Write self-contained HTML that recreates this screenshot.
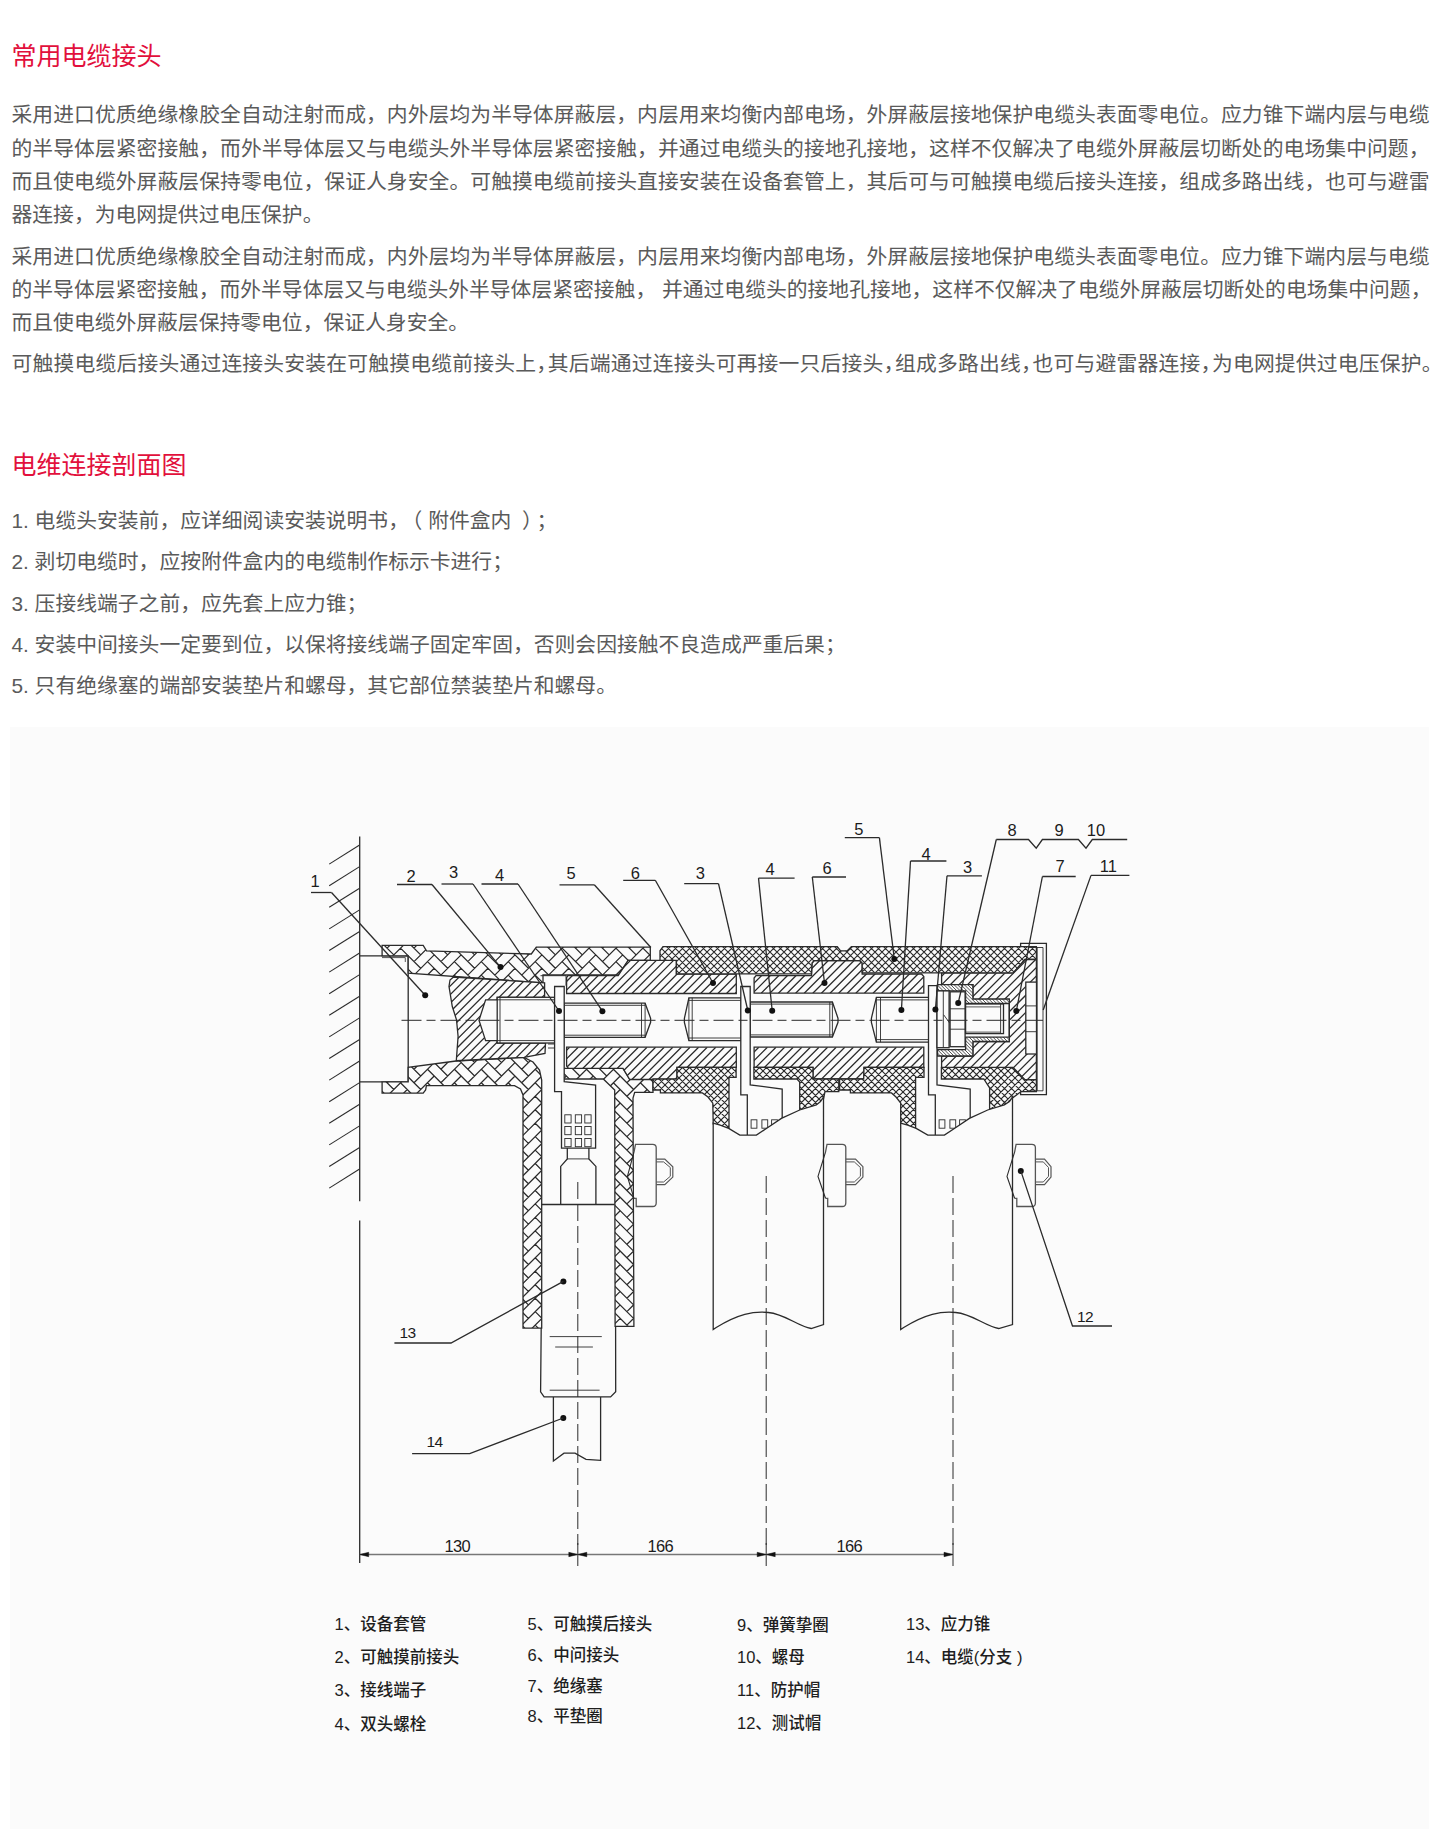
<!DOCTYPE html>
<html lang="zh-CN">
<head>
<meta charset="utf-8">
<title>常用电缆接头</title>
<style>
html,body{margin:0;padding:0;background:#fff;}
body{width:1443px;height:1833px;position:relative;overflow:hidden;font-family:"Liberation Sans","Noto Sans CJK SC",sans-serif;color:#4d4d4d;}
.t{position:absolute;left:11.5px;white-space:nowrap;font-size:25px;line-height:30px;color:#e2103c;font-weight:400;}
.l{position:absolute;left:11.5px;width:1418px;font-size:20.8px;line-height:30px;white-space:nowrap;text-align:justify;text-align-last:justify;color:#5a5a5a;}
.s{position:absolute;left:11.5px;font-size:20.8px;line-height:30px;white-space:nowrap;color:#5a5a5a;}
.c{margin:0 -9.5px 0 0;}
.box{position:absolute;left:10.4px;top:726.5px;width:1419px;height:1102.5px;background:#fbfbfb;}
#dwg{position:absolute;left:0;top:0;font-family:"Liberation Sans",sans-serif;fill:#1c1c1c;}
.g{position:absolute;font-size:16.5px;line-height:22px;white-space:nowrap;color:#1e1e1e;font-weight:500;}
</style>
</head>
<body>
<div class="t" style="top:41.3px">常用电缆接头</div>
<div class="l" style="top:100px">采用进口优质绝缘橡胶全自动注射而成，内外层均为半导体屏蔽层，内层用来均衡内部电场，外屏蔽层接地保护电缆头表面零电位。应力锥下端内层与电缆</div>
<div class="l" style="top:133.5px">的半导体层紧密接触，而外半导体层又与电缆头外半导体层紧密接触，并通过电缆头的接地孔接地，这样不仅解决了电缆外屏蔽层切断处的电场集中问题，</div>
<div class="l" style="top:166.5px">而且使电缆外屏蔽层保持零电位，保证人身安全。可触摸电缆前接头直接安装在设备套管上，其后可与可触摸电缆后接头连接，组成多路出线，也可与避雷</div>
<div class="s" style="top:199.5px">器连接，为电网提供过电压保护。</div>
<div class="l" style="top:241.5px">采用进口优质绝缘橡胶全自动注射而成，内外层均为半导体屏蔽层，内层用来均衡内部电场，外屏蔽层接地保护电缆头表面零电位。应力锥下端内层与电缆</div>
<div class="l" style="top:274.5px">的半导体层紧密接触，而外半导体层又与电缆头外半导体层紧密接触， 并通过电缆头的接地孔接地，这样不仅解决了电缆外屏蔽层切断处的电场集中问题，</div>
<div class="s" style="top:307.5px">而且使电缆外屏蔽层保持零电位，保证人身安全。</div>
<div class="l" style="top:348.5px;width:1431px">可触摸电缆后接头通过连接头安装在可触摸电缆前接头上<span class="c">，</span>其后端通过连接头可再接一只后接头<span class="c">，</span>组成多路出线<span class="c">，</span>也可与避雷器连接<span class="c">，</span>为电网提供过电压保护。</div>
<div class="t" style="top:450px">电维连接剖面图</div>
<div class="s" style="top:505.5px">1. 电缆头安装前，应详细阅读安装说明书，<span style="margin-left:3px">（</span> 附件盒内<span style="margin-left:5px"> ）</span><span style="margin-left:4px">；</span></div>
<div class="s" style="top:546.5px">2. 剥切电缆时，应按附件盒内的电缆制作标示卡进行；</div>
<div class="s" style="top:588.5px">3. 压接线端子之前，应先套上应力锥；</div>
<div class="s" style="top:629.5px">4. 安装中间接头一定要到位，以保将接线端子固定牢固，否则会因接触不良造成严重后果；</div>
<div class="s" style="top:670.5px">5. 只有绝缘塞的端部安装垫片和螺母，其它部位禁装垫片和螺母。</div>
<div class="box"></div>
<svg id="dwg" width="1443" height="1833" viewBox="0 0 1443 1833">
<line x1="359.7" y1="836.6" x2="359.7" y2="1201.2" stroke="#2b2b2b" stroke-width="1.3" />
<line x1="359.7" y1="1220.4" x2="359.7" y2="1563.0" stroke="#2b2b2b" stroke-width="1.3" />
<line x1="359.2" y1="845.3" x2="329.2" y2="864.1" stroke="#2b2b2b" stroke-width="1.1" />
<line x1="359.2" y1="866.9" x2="329.2" y2="885.7" stroke="#2b2b2b" stroke-width="1.1" />
<line x1="359.2" y1="888.5" x2="329.2" y2="907.3" stroke="#2b2b2b" stroke-width="1.1" />
<line x1="359.2" y1="910.1" x2="329.2" y2="928.9" stroke="#2b2b2b" stroke-width="1.1" />
<line x1="359.2" y1="931.7" x2="329.2" y2="950.5" stroke="#2b2b2b" stroke-width="1.1" />
<line x1="359.2" y1="953.3" x2="329.2" y2="972.1" stroke="#2b2b2b" stroke-width="1.1" />
<line x1="359.2" y1="974.9" x2="329.2" y2="993.7" stroke="#2b2b2b" stroke-width="1.1" />
<line x1="359.2" y1="996.5" x2="329.2" y2="1015.3" stroke="#2b2b2b" stroke-width="1.1" />
<line x1="359.2" y1="1018.1" x2="329.2" y2="1036.9" stroke="#2b2b2b" stroke-width="1.1" />
<line x1="359.2" y1="1039.7" x2="329.2" y2="1058.5" stroke="#2b2b2b" stroke-width="1.1" />
<line x1="359.2" y1="1061.3" x2="329.2" y2="1080.1" stroke="#2b2b2b" stroke-width="1.1" />
<line x1="359.2" y1="1082.9" x2="329.2" y2="1101.7" stroke="#2b2b2b" stroke-width="1.1" />
<line x1="359.2" y1="1104.5" x2="329.2" y2="1123.3" stroke="#2b2b2b" stroke-width="1.1" />
<line x1="359.2" y1="1126.1" x2="329.2" y2="1144.9" stroke="#2b2b2b" stroke-width="1.1" />
<line x1="359.2" y1="1147.7" x2="329.2" y2="1166.5" stroke="#2b2b2b" stroke-width="1.1" />
<line x1="359.2" y1="1169.3" x2="329.2" y2="1188.1" stroke="#2b2b2b" stroke-width="1.1" />
<polyline points="359.7,955.8 408.2,955.8 408.2,1081.8 359.7,1081.8" fill="none" stroke="#2b2b2b" stroke-width="1.3" />
<polyline points="382.0,957.6 405.3,957.6 405.3,962.0" fill="none" stroke="#2b2b2b" stroke-width="0.8" />
<clipPath id="c1"><polygon points="382.1,945.3 423.2,945.3 426.5,950.8 531.3,954.0 536.3,947.1 650.3,947.1 650.3,960.4 628.2,960.4 618.2,975.0 543.0,975.0 543.0,982.9 408.2,973.2 408.2,955.8 382.1,955.8"/></clipPath>
<polygon points="382.1,945.3 423.2,945.3 426.5,950.8 531.3,954.0 536.3,947.1 650.3,947.1 650.3,960.4 628.2,960.4 618.2,975.0 543.0,975.0 543.0,982.9 408.2,973.2 408.2,955.8 382.1,955.8" fill="#fbfbfb" stroke="none"/>
<path clip-path="url(#c1)" d="M387.1,975.1L407.3,954.9M387.1,961.6L407.3,941.4M393.8,954.9L373.6,934.7M387.1,948.1L407.3,927.9M414.0,988.5L434.2,968.3M420.7,981.8L400.5,961.6M414.0,975.1L434.2,954.9M420.7,968.3L400.5,948.1M414.0,961.6L434.2,941.4M420.7,954.9L400.5,934.7M414.0,948.1L434.2,927.9M440.9,988.5L461.1,968.3M447.7,981.8L427.5,961.6M440.9,975.1L461.1,954.9M447.7,968.3L427.5,948.1M440.9,961.6L461.1,941.4M447.7,954.9L427.5,934.7M474.6,995.3L454.4,975.1M467.8,988.5L488.0,968.3M474.6,981.8L454.4,961.6M467.8,975.1L488.0,954.9M474.6,968.3L454.4,948.1M467.8,961.6L488.0,941.4M474.6,954.9L454.4,934.7M501.5,995.3L481.3,975.1M494.8,988.5L515.0,968.3M501.5,981.8L481.3,961.6M494.8,975.1L515.0,954.9M501.5,968.3L481.3,948.1M494.8,961.6L515.0,941.4M501.5,954.9L481.3,934.7M521.7,1002.0L541.9,981.8M528.4,995.3L508.2,975.1M521.7,988.5L541.9,968.3M528.4,981.8L508.2,961.6M521.7,975.1L541.9,954.9M528.4,968.3L508.2,948.1M521.7,961.6L541.9,941.4M528.4,954.9L508.2,934.7M555.4,995.3L535.2,975.1M548.6,988.5L568.8,968.3M555.4,981.8L535.2,961.6M548.6,975.1L568.8,954.9M555.4,968.3L535.2,948.1M548.6,961.6L568.8,941.4M555.4,954.9L535.2,934.7M548.6,948.1L568.8,927.9M575.6,988.5L595.7,968.3M582.3,981.8L562.1,961.6M575.6,975.1L595.7,954.9M582.3,968.3L562.1,948.1M575.6,961.6L595.7,941.4M582.3,954.9L562.1,934.7M575.6,948.1L595.7,927.9M602.5,988.5L622.7,968.3M609.2,981.8L589.0,961.6M602.5,975.1L622.7,954.9M609.2,968.3L589.0,948.1M602.5,961.6L622.7,941.4M609.2,954.9L589.0,934.7M602.5,948.1L622.7,927.9M636.1,981.8L615.9,961.6M629.4,975.1L649.6,954.9M636.1,968.3L615.9,948.1M629.4,961.6L649.6,941.4M636.1,954.9L615.9,934.7M629.4,948.1L649.6,927.9M663.1,968.3L642.9,948.1" fill="none" stroke="#2b2b2b" stroke-width="1.25"/>
<polygon points="382.1,945.3 423.2,945.3 426.5,950.8 531.3,954.0 536.3,947.1 650.3,947.1 650.3,960.4 628.2,960.4 618.2,975.0 543.0,975.0 543.0,982.9 408.2,973.2 408.2,955.8 382.1,955.8" fill="none" stroke="#2b2b2b" stroke-width="1.3"/>
<clipPath id="c2"><polygon points="382.1,1081.8 408.2,1081.8 408.2,1067.4 456.0,1061.0 524.0,1057.3 533.0,1062.0 539.5,1070.0 541.7,1080.0 541.7,1328.1 523.0,1328.1 523.0,1095.0 520.5,1089.0 514.5,1085.7 426.4,1085.7 425.6,1090.0 423.2,1093.1 382.1,1093.1"/></clipPath>
<polygon points="382.1,1081.8 408.2,1081.8 408.2,1067.4 456.0,1061.0 524.0,1057.3 533.0,1062.0 539.5,1070.0 541.7,1080.0 541.7,1328.1 523.0,1328.1 523.0,1095.0 520.5,1089.0 514.5,1085.7 426.4,1085.7 425.6,1090.0 423.2,1093.1 382.1,1093.1" fill="#fbfbfb" stroke="none"/>
<path clip-path="url(#c2)" d="M387.1,1109.7L407.3,1089.5M393.8,1103.0L373.6,1082.8M387.1,1096.2L407.3,1076.0M393.8,1089.5L373.6,1069.3M387.1,1082.8L407.3,1062.6M420.7,1103.0L400.5,1082.8M414.0,1096.2L434.2,1076.0M420.7,1089.5L400.5,1069.3M414.0,1082.8L434.2,1062.6M420.7,1076.0L400.5,1055.8M414.0,1069.3L434.2,1049.1M447.7,1103.0L427.5,1082.8M440.9,1096.2L461.1,1076.0M447.7,1089.5L427.5,1069.3M440.9,1082.8L461.1,1062.6M447.7,1076.0L427.5,1055.8M440.9,1069.3L461.1,1049.1M447.7,1062.6L427.5,1042.4M474.6,1103.0L454.4,1082.8M467.8,1096.2L488.0,1076.0M474.6,1089.5L454.4,1069.3M467.8,1082.8L488.0,1062.6M474.6,1076.0L454.4,1055.8M467.8,1069.3L488.0,1049.1M474.6,1062.6L454.4,1042.4M501.5,1103.0L481.3,1082.8M494.8,1096.2L515.0,1076.0M501.5,1089.5L481.3,1069.3M494.8,1082.8L515.0,1062.6M501.5,1076.0L481.3,1055.8M494.8,1069.3L515.0,1049.1M501.5,1062.6L481.3,1042.4M521.7,1338.6L541.9,1318.4M528.4,1331.8L508.2,1311.6M521.7,1325.1L541.9,1304.9M528.4,1318.4L508.2,1298.2M521.7,1311.6L541.9,1291.4M528.4,1304.9L508.2,1284.7M521.7,1298.2L541.9,1278.0M528.4,1291.4L508.2,1271.3M521.7,1284.7L541.9,1264.5M528.4,1278.0L508.2,1257.8M521.7,1271.3L541.9,1251.1M528.4,1264.5L508.2,1244.3M521.7,1257.8L541.9,1237.6M528.4,1251.1L508.2,1230.9M521.7,1244.3L541.9,1224.1M528.4,1237.6L508.2,1217.4M521.7,1230.9L541.9,1210.7M528.4,1224.1L508.2,1203.9M521.7,1217.4L541.9,1197.2M528.4,1210.7L508.2,1190.5M521.7,1203.9L541.9,1183.7M528.4,1197.2L508.2,1177.0M521.7,1190.5L541.9,1170.3M528.4,1183.7L508.2,1163.5M521.7,1177.0L541.9,1156.8M528.4,1170.3L508.2,1150.1M521.7,1163.5L541.9,1143.4M528.4,1156.8L508.2,1136.6M521.7,1150.1L541.9,1129.9M528.4,1143.4L508.2,1123.2M521.7,1136.6L541.9,1116.4M528.4,1129.9L508.2,1109.7M521.7,1123.2L541.9,1103.0M528.4,1116.4L508.2,1096.2M521.7,1109.7L541.9,1089.5M528.4,1103.0L508.2,1082.8M521.7,1096.2L541.9,1076.0M528.4,1089.5L508.2,1069.3M521.7,1082.8L541.9,1062.6M528.4,1076.0L508.2,1055.8M521.7,1069.3L541.9,1049.1M528.4,1062.6L508.2,1042.4M555.4,1345.3L535.2,1325.1M555.4,1331.8L535.2,1311.6M555.4,1318.4L535.2,1298.2M555.4,1304.9L535.2,1284.7M555.4,1291.4L535.2,1271.3M555.4,1278.0L535.2,1257.8M555.4,1264.5L535.2,1244.3M555.4,1251.1L535.2,1230.9M555.4,1237.6L535.2,1217.4M555.4,1224.1L535.2,1203.9M555.4,1210.7L535.2,1190.5M555.4,1197.2L535.2,1177.0M555.4,1183.7L535.2,1163.5M555.4,1170.3L535.2,1150.1M555.4,1156.8L535.2,1136.6M555.4,1143.4L535.2,1123.2M555.4,1129.9L535.2,1109.7M555.4,1116.4L535.2,1096.2M555.4,1103.0L535.2,1082.8M555.4,1089.5L535.2,1069.3" fill="none" stroke="#2b2b2b" stroke-width="1.25"/>
<polygon points="382.1,1081.8 408.2,1081.8 408.2,1067.4 456.0,1061.0 524.0,1057.3 533.0,1062.0 539.5,1070.0 541.7,1080.0 541.7,1328.1 523.0,1328.1 523.0,1095.0 520.5,1089.0 514.5,1085.7 426.4,1085.7 425.6,1090.0 423.2,1093.1 382.1,1093.1" fill="none" stroke="#2b2b2b" stroke-width="1.3"/>
<clipPath id="c3"><polygon points="563.2,1068.3 623.0,1068.3 629.7,1079.0 653.0,1079.0 653.0,1092.4 634.7,1092.4 633.0,1098.0 633.9,1326.4 615.1,1326.4 614.7,1090.0 603.3,1079.0 563.2,1079.0"/></clipPath>
<polygon points="563.2,1068.3 623.0,1068.3 629.7,1079.0 653.0,1079.0 653.0,1092.4 634.7,1092.4 633.0,1098.0 633.9,1326.4 615.1,1326.4 614.7,1090.0 603.3,1079.0 563.2,1079.0" fill="#fbfbfb" stroke="none"/>
<path clip-path="url(#c3)" d="M546.1,1096.2L566.3,1076.0M573.1,1096.2L593.2,1076.0M579.8,1089.5L559.6,1069.3M573.1,1082.8L593.2,1062.6M579.8,1076.0L559.6,1055.8M573.1,1069.3L593.2,1049.1M600.0,1338.6L620.2,1318.4M600.0,1325.1L620.2,1304.9M600.0,1311.6L620.2,1291.4M600.0,1298.2L620.2,1278.0M600.0,1284.7L620.2,1264.5M600.0,1271.3L620.2,1251.1M600.0,1257.8L620.2,1237.6M600.0,1244.3L620.2,1224.1M600.0,1230.9L620.2,1210.7M600.0,1217.4L620.2,1197.2M600.0,1203.9L620.2,1183.7M600.0,1190.5L620.2,1170.3M600.0,1177.0L620.2,1156.8M600.0,1163.5L620.2,1143.4M600.0,1150.1L620.2,1129.9M600.0,1136.6L620.2,1116.4M600.0,1123.2L620.2,1103.0M600.0,1109.7L620.2,1089.5M600.0,1096.2L620.2,1076.0M606.7,1089.5L586.5,1069.3M600.0,1082.8L620.2,1062.6M606.7,1076.0L586.5,1055.8M600.0,1069.3L620.2,1049.1M633.6,1331.8L613.4,1311.6M626.9,1325.1L647.1,1304.9M633.6,1318.4L613.4,1298.2M626.9,1311.6L647.1,1291.4M633.6,1304.9L613.4,1284.7M626.9,1298.2L647.1,1278.0M633.6,1291.4L613.4,1271.3M626.9,1284.7L647.1,1264.5M633.6,1278.0L613.4,1257.8M626.9,1271.3L647.1,1251.1M633.6,1264.5L613.4,1244.3M626.9,1257.8L647.1,1237.6M633.6,1251.1L613.4,1230.9M626.9,1244.3L647.1,1224.1M633.6,1237.6L613.4,1217.4M626.9,1230.9L647.1,1210.7M633.6,1224.1L613.4,1203.9M626.9,1217.4L647.1,1197.2M633.6,1210.7L613.4,1190.5M626.9,1203.9L647.1,1183.7M633.6,1197.2L613.4,1177.0M626.9,1190.5L647.1,1170.3M633.6,1183.7L613.4,1163.5M626.9,1177.0L647.1,1156.8M633.6,1170.3L613.4,1150.1M626.9,1163.5L647.1,1143.4M633.6,1156.8L613.4,1136.6M626.9,1150.1L647.1,1129.9M633.6,1143.4L613.4,1123.2M626.9,1136.6L647.1,1116.4M633.6,1129.9L613.4,1109.7M626.9,1123.2L647.1,1103.0M633.6,1116.4L613.4,1096.2M626.9,1109.7L647.1,1089.5M633.6,1103.0L613.4,1082.8M626.9,1096.2L647.1,1076.0M633.6,1089.5L613.4,1069.3M626.9,1082.8L647.1,1062.6M660.6,1103.0L640.4,1082.8M660.6,1089.5L640.4,1069.3" fill="none" stroke="#2b2b2b" stroke-width="1.25"/>
<polygon points="563.2,1068.3 623.0,1068.3 629.7,1079.0 653.0,1079.0 653.0,1092.4 634.7,1092.4 633.0,1098.0 633.9,1326.4 615.1,1326.4 614.7,1090.0 603.3,1079.0 563.2,1079.0" fill="none" stroke="#2b2b2b" stroke-width="1.3"/>
<clipPath id="c4"><polygon points="449.0,986.5 450.0,980.0 453.5,977.0 544.6,982.9 544.6,997.3 497.2,997.3 497.2,999.8 485.6,999.8 479.0,1020.3 485.6,1040.6 497.2,1040.6 497.2,1043.0 545.5,1043.0 545.0,1053.5 524.0,1057.3 456.3,1060.7 458.1,1036.4 456.5,1019.8 452.3,1006.5"/></clipPath>
<polygon points="449.0,986.5 450.0,980.0 453.5,977.0 544.6,982.9 544.6,997.3 497.2,997.3 497.2,999.8 485.6,999.8 479.0,1020.3 485.6,1040.6 497.2,1040.6 497.2,1043.0 545.5,1043.0 545.0,1053.5 524.0,1057.3 456.3,1060.7 458.1,1036.4 456.5,1019.8 452.3,1006.5" fill="#fbfbfb" stroke="none"/>
<path clip-path="url(#c4)" d="M358.3,1060.7L442.0,977.0M366.9,1060.7L450.6,977.0M375.5,1060.7L459.2,977.0M384.1,1060.7L467.8,977.0M392.7,1060.7L476.4,977.0M401.3,1060.7L485.0,977.0M409.9,1060.7L493.6,977.0M418.5,1060.7L502.2,977.0M427.1,1060.7L510.8,977.0M435.7,1060.7L519.4,977.0M444.3,1060.7L528.0,977.0M452.9,1060.7L536.6,977.0M461.5,1060.7L545.2,977.0M470.1,1060.7L553.8,977.0M478.7,1060.7L562.4,977.0M487.3,1060.7L571.0,977.0M495.9,1060.7L579.6,977.0M504.5,1060.7L588.2,977.0M513.1,1060.7L596.8,977.0M521.7,1060.7L605.4,977.0M530.3,1060.7L614.0,977.0M538.9,1060.7L622.6,977.0" fill="none" stroke="#2b2b2b" stroke-width="1.25"/>
<polygon points="449.0,986.5 450.0,980.0 453.5,977.0 544.6,982.9 544.6,997.3 497.2,997.3 497.2,999.8 485.6,999.8 479.0,1020.3 485.6,1040.6 497.2,1040.6 497.2,1043.0 545.5,1043.0 545.0,1053.5 524.0,1057.3 456.3,1060.7 458.1,1036.4 456.5,1019.8 452.3,1006.5" fill="none" stroke="#2b2b2b" stroke-width="1.3"/>
<polyline points="540.5,975.7 566.0,975.7 566.0,985.7" fill="none" stroke="#2b2b2b" stroke-width="0.9" />
<polyline points="548.0,1044.0 554.0,1044.0" fill="none" stroke="#2b2b2b" stroke-width="0.9" />
<polyline points="548.0,1048.0 554.0,1048.0" fill="none" stroke="#2b2b2b" stroke-width="0.9" />
<clipPath id="c5"><polygon points="566.6,993.5 566.6,977.5 568.0,975.7 618.2,975.7 628.2,960.4 676.4,960.4 676.4,974.1 736.3,974.1 736.3,993.5"/></clipPath>
<polygon points="566.6,993.5 566.6,977.5 568.0,975.7 618.2,975.7 628.2,960.4 676.4,960.4 676.4,974.1 736.3,974.1 736.3,993.5" fill="#fbfbfb" stroke="none"/>
<path clip-path="url(#c5)" d="M528.7,993.5L561.8,960.4M537.3,993.5L570.4,960.4M545.9,993.5L579.0,960.4M554.5,993.5L587.6,960.4M563.1,993.5L596.2,960.4M571.7,993.5L604.8,960.4M580.3,993.5L613.4,960.4M588.9,993.5L622.0,960.4M597.5,993.5L630.6,960.4M606.1,993.5L639.2,960.4M614.7,993.5L647.8,960.4M623.3,993.5L656.4,960.4M631.9,993.5L665.0,960.4M640.5,993.5L673.6,960.4M649.1,993.5L682.2,960.4M657.7,993.5L690.8,960.4M666.3,993.5L699.4,960.4M674.9,993.5L708.0,960.4M683.5,993.5L716.6,960.4M692.1,993.5L725.2,960.4M700.7,993.5L733.8,960.4M709.3,993.5L742.4,960.4M717.9,993.5L751.0,960.4M726.5,993.5L759.6,960.4M735.1,993.5L768.2,960.4" fill="none" stroke="#2b2b2b" stroke-width="1.25"/>
<polygon points="566.6,993.5 566.6,977.5 568.0,975.7 618.2,975.7 628.2,960.4 676.4,960.4 676.4,974.1 736.3,974.1 736.3,993.5" fill="none" stroke="#2b2b2b" stroke-width="1.3"/>
<clipPath id="c6"><polygon points="566.6,1047.2 736.3,1047.2 736.3,1067.4 677.0,1067.4 677.0,1079.5 629.7,1079.5 623.0,1068.3 568.5,1068.3 566.6,1066.0"/></clipPath>
<polygon points="566.6,1047.2 736.3,1047.2 736.3,1067.4 677.0,1067.4 677.0,1079.5 629.7,1079.5 623.0,1068.3 568.5,1068.3 566.6,1066.0" fill="#fbfbfb" stroke="none"/>
<path clip-path="url(#c6)" d="M528.7,1079.5L561.0,1047.2M537.3,1079.5L569.6,1047.2M545.9,1079.5L578.2,1047.2M554.5,1079.5L586.8,1047.2M563.1,1079.5L595.4,1047.2M571.7,1079.5L604.0,1047.2M580.3,1079.5L612.6,1047.2M588.9,1079.5L621.2,1047.2M597.5,1079.5L629.8,1047.2M606.1,1079.5L638.4,1047.2M614.7,1079.5L647.0,1047.2M623.3,1079.5L655.6,1047.2M631.9,1079.5L664.2,1047.2M640.5,1079.5L672.8,1047.2M649.1,1079.5L681.4,1047.2M657.7,1079.5L690.0,1047.2M666.3,1079.5L698.6,1047.2M674.9,1079.5L707.2,1047.2M683.5,1079.5L715.8,1047.2M692.1,1079.5L724.4,1047.2M700.7,1079.5L733.0,1047.2M709.3,1079.5L741.6,1047.2M717.9,1079.5L750.2,1047.2M726.5,1079.5L758.8,1047.2M735.1,1079.5L767.4,1047.2" fill="none" stroke="#2b2b2b" stroke-width="1.25"/>
<polygon points="566.6,1047.2 736.3,1047.2 736.3,1067.4 677.0,1067.4 677.0,1079.5 629.7,1079.5 623.0,1068.3 568.5,1068.3 566.6,1066.0" fill="none" stroke="#2b2b2b" stroke-width="1.3"/>
<clipPath id="c7"><polygon points="754.1,993.2 754.1,978.0 756.0,975.7 811.5,975.7 812.0,963.0 814.0,960.7 860.0,960.7 862.2,963.0 862.2,974.0 921.5,974.0 923.8,976.5 923.8,993.2"/></clipPath>
<polygon points="754.1,993.2 754.1,978.0 756.0,975.7 811.5,975.7 812.0,963.0 814.0,960.7 860.0,960.7 862.2,963.0 862.2,974.0 921.5,974.0 923.8,976.5 923.8,993.2" fill="#fbfbfb" stroke="none"/>
<path clip-path="url(#c7)" d="M718.2,993.2L750.7,960.7M726.8,993.2L759.3,960.7M735.4,993.2L767.9,960.7M744.0,993.2L776.5,960.7M752.6,993.2L785.1,960.7M761.2,993.2L793.7,960.7M769.8,993.2L802.3,960.7M778.4,993.2L810.9,960.7M787.0,993.2L819.5,960.7M795.6,993.2L828.1,960.7M804.2,993.2L836.7,960.7M812.8,993.2L845.3,960.7M821.4,993.2L853.9,960.7M830.0,993.2L862.5,960.7M838.6,993.2L871.1,960.7M847.2,993.2L879.7,960.7M855.8,993.2L888.3,960.7M864.4,993.2L896.9,960.7M873.0,993.2L905.5,960.7M881.6,993.2L914.1,960.7M890.2,993.2L922.7,960.7M898.8,993.2L931.3,960.7M907.4,993.2L939.9,960.7M916.0,993.2L948.5,960.7" fill="none" stroke="#2b2b2b" stroke-width="1.25"/>
<polygon points="754.1,993.2 754.1,978.0 756.0,975.7 811.5,975.7 812.0,963.0 814.0,960.7 860.0,960.7 862.2,963.0 862.2,974.0 921.5,974.0 923.8,976.5 923.8,993.2" fill="none" stroke="#2b2b2b" stroke-width="1.3"/>
<clipPath id="c8"><polygon points="754.1,1047.2 923.8,1047.2 923.8,1067.4 864.0,1067.4 864.0,1079.0 813.0,1079.0 813.0,1067.4 754.1,1067.4"/></clipPath>
<polygon points="754.1,1047.2 923.8,1047.2 923.8,1067.4 864.0,1067.4 864.0,1079.0 813.0,1079.0 813.0,1067.4 754.1,1067.4" fill="#fbfbfb" stroke="none"/>
<path clip-path="url(#c8)" d="M718.4,1079.0L750.2,1047.2M727.0,1079.0L758.8,1047.2M735.6,1079.0L767.4,1047.2M744.2,1079.0L776.0,1047.2M752.8,1079.0L784.6,1047.2M761.4,1079.0L793.2,1047.2M770.0,1079.0L801.8,1047.2M778.6,1079.0L810.4,1047.2M787.2,1079.0L819.0,1047.2M795.8,1079.0L827.6,1047.2M804.4,1079.0L836.2,1047.2M813.0,1079.0L844.8,1047.2M821.6,1079.0L853.4,1047.2M830.2,1079.0L862.0,1047.2M838.8,1079.0L870.6,1047.2M847.4,1079.0L879.2,1047.2M856.0,1079.0L887.8,1047.2M864.6,1079.0L896.4,1047.2M873.2,1079.0L905.0,1047.2M881.8,1079.0L913.6,1047.2M890.4,1079.0L922.2,1047.2M899.0,1079.0L930.8,1047.2M907.6,1079.0L939.4,1047.2M916.2,1079.0L948.0,1047.2" fill="none" stroke="#2b2b2b" stroke-width="1.25"/>
<polygon points="754.1,1047.2 923.8,1047.2 923.8,1067.4 864.0,1067.4 864.0,1079.0 813.0,1079.0 813.0,1067.4 754.1,1067.4" fill="none" stroke="#2b2b2b" stroke-width="1.3"/>
<clipPath id="c9"><polygon points="660.0,960.4 676.4,960.4 676.4,973.8 811.5,973.8 812.0,963.0 814.0,960.7 860.0,960.7 862.2,963.0 862.2,972.6 1013.0,973.2 1025.0,959.5 1036.4,959.5 1036.4,946.6 851.4,946.6 847.3,950.8 840.6,950.8 837.3,946.6 663.0,946.6 660.0,950.8"/></clipPath>
<polygon points="660.0,960.4 676.4,960.4 676.4,973.8 811.5,973.8 812.0,963.0 814.0,960.7 860.0,960.7 862.2,963.0 862.2,972.6 1013.0,973.2 1025.0,959.5 1036.4,959.5 1036.4,946.6 851.4,946.6 847.3,950.8 840.6,950.8 837.3,946.6 663.0,946.6 660.0,950.8" fill="#fbfbfb" stroke="none"/>
<path clip-path="url(#c9)" d="M629.2,973.8L656.4,946.6M636.2,973.8L663.4,946.6M643.2,973.8L670.4,946.6M650.2,973.8L677.4,946.6M657.2,973.8L684.4,946.6M664.2,973.8L691.4,946.6M671.2,973.8L698.4,946.6M678.2,973.8L705.4,946.6M685.2,973.8L712.4,946.6M692.2,973.8L719.4,946.6M699.2,973.8L726.4,946.6M706.2,973.8L733.4,946.6M713.2,973.8L740.4,946.6M720.2,973.8L747.4,946.6M727.2,973.8L754.4,946.6M734.2,973.8L761.4,946.6M741.2,973.8L768.4,946.6M748.2,973.8L775.4,946.6M755.2,973.8L782.4,946.6M762.2,973.8L789.4,946.6M769.2,973.8L796.4,946.6M776.2,973.8L803.4,946.6M783.2,973.8L810.4,946.6M790.2,973.8L817.4,946.6M797.2,973.8L824.4,946.6M804.2,973.8L831.4,946.6M811.2,973.8L838.4,946.6M818.2,973.8L845.4,946.6M825.2,973.8L852.4,946.6M832.2,973.8L859.4,946.6M839.2,973.8L866.4,946.6M846.2,973.8L873.4,946.6M853.2,973.8L880.4,946.6M860.2,973.8L887.4,946.6M867.2,973.8L894.4,946.6M874.2,973.8L901.4,946.6M881.2,973.8L908.4,946.6M888.2,973.8L915.4,946.6M895.2,973.8L922.4,946.6M902.2,973.8L929.4,946.6M909.2,973.8L936.4,946.6M916.2,973.8L943.4,946.6M923.2,973.8L950.4,946.6M930.2,973.8L957.4,946.6M937.2,973.8L964.4,946.6M944.2,973.8L971.4,946.6M951.2,973.8L978.4,946.6M958.2,973.8L985.4,946.6M965.2,973.8L992.4,946.6M972.2,973.8L999.4,946.6M979.2,973.8L1006.4,946.6M986.2,973.8L1013.4,946.6M993.2,973.8L1020.4,946.6M1000.2,973.8L1027.4,946.6M1007.2,973.8L1034.4,946.6M1014.2,973.8L1041.4,946.6M1021.2,973.8L1048.4,946.6M1028.2,973.8L1055.4,946.6M1035.2,973.8L1062.4,946.6M631.6,946.6L658.8,973.8M638.6,946.6L665.8,973.8M645.6,946.6L672.8,973.8M652.6,946.6L679.8,973.8M659.6,946.6L686.8,973.8M666.6,946.6L693.8,973.8M673.6,946.6L700.8,973.8M680.6,946.6L707.8,973.8M687.6,946.6L714.8,973.8M694.6,946.6L721.8,973.8M701.6,946.6L728.8,973.8M708.6,946.6L735.8,973.8M715.6,946.6L742.8,973.8M722.6,946.6L749.8,973.8M729.6,946.6L756.8,973.8M736.6,946.6L763.8,973.8M743.6,946.6L770.8,973.8M750.6,946.6L777.8,973.8M757.6,946.6L784.8,973.8M764.6,946.6L791.8,973.8M771.6,946.6L798.8,973.8M778.6,946.6L805.8,973.8M785.6,946.6L812.8,973.8M792.6,946.6L819.8,973.8M799.6,946.6L826.8,973.8M806.6,946.6L833.8,973.8M813.6,946.6L840.8,973.8M820.6,946.6L847.8,973.8M827.6,946.6L854.8,973.8M834.6,946.6L861.8,973.8M841.6,946.6L868.8,973.8M848.6,946.6L875.8,973.8M855.6,946.6L882.8,973.8M862.6,946.6L889.8,973.8M869.6,946.6L896.8,973.8M876.6,946.6L903.8,973.8M883.6,946.6L910.8,973.8M890.6,946.6L917.8,973.8M897.6,946.6L924.8,973.8M904.6,946.6L931.8,973.8M911.6,946.6L938.8,973.8M918.6,946.6L945.8,973.8M925.6,946.6L952.8,973.8M932.6,946.6L959.8,973.8M939.6,946.6L966.8,973.8M946.6,946.6L973.8,973.8M953.6,946.6L980.8,973.8M960.6,946.6L987.8,973.8M967.6,946.6L994.8,973.8M974.6,946.6L1001.8,973.8M981.6,946.6L1008.8,973.8M988.6,946.6L1015.8,973.8M995.6,946.6L1022.8,973.8M1002.6,946.6L1029.8,973.8M1009.6,946.6L1036.8,973.8M1016.6,946.6L1043.8,973.8M1023.6,946.6L1050.8,973.8M1030.6,946.6L1057.8,973.8" fill="none" stroke="#2b2b2b" stroke-width="1.15"/>
<polygon points="660.0,960.4 676.4,960.4 676.4,973.8 811.5,973.8 812.0,963.0 814.0,960.7 860.0,960.7 862.2,963.0 862.2,972.6 1013.0,973.2 1025.0,959.5 1036.4,959.5 1036.4,946.6 851.4,946.6 847.3,950.8 840.6,950.8 837.3,946.6 663.0,946.6 660.0,950.8" fill="none" stroke="#2b2b2b" stroke-width="1.3"/>
<clipPath id="c10"><polygon points="653.0,1079.0 677.0,1079.0 677.0,1067.4 736.1,1067.4 736.1,1077.4 729.0,1077.4 729.0,1130.0 721.0,1127.5 713.2,1124.0 712.8,1103.2 708.0,1097.0 702.4,1092.9 660.4,1092.9 660.4,1090.0 653.0,1090.0"/></clipPath>
<polygon points="653.0,1079.0 677.0,1079.0 677.0,1067.4 736.1,1067.4 736.1,1077.4 729.0,1077.4 729.0,1130.0 721.0,1127.5 713.2,1124.0 712.8,1103.2 708.0,1097.0 702.4,1092.9 660.4,1092.9 660.4,1090.0 653.0,1090.0" fill="#fbfbfb" stroke="none"/>
<path clip-path="url(#c10)" d="M585.0,1130.0L647.6,1067.4M592.0,1130.0L654.6,1067.4M599.0,1130.0L661.6,1067.4M606.0,1130.0L668.6,1067.4M613.0,1130.0L675.6,1067.4M620.0,1130.0L682.6,1067.4M627.0,1130.0L689.6,1067.4M634.0,1130.0L696.6,1067.4M641.0,1130.0L703.6,1067.4M648.0,1130.0L710.6,1067.4M655.0,1130.0L717.6,1067.4M662.0,1130.0L724.6,1067.4M669.0,1130.0L731.6,1067.4M676.0,1130.0L738.6,1067.4M683.0,1130.0L745.6,1067.4M690.0,1130.0L752.6,1067.4M697.0,1130.0L759.6,1067.4M704.0,1130.0L766.6,1067.4M711.0,1130.0L773.6,1067.4M718.0,1130.0L780.6,1067.4M725.0,1130.0L787.6,1067.4M732.0,1130.0L794.6,1067.4M584.4,1067.4L647.0,1130.0M591.4,1067.4L654.0,1130.0M598.4,1067.4L661.0,1130.0M605.4,1067.4L668.0,1130.0M612.4,1067.4L675.0,1130.0M619.4,1067.4L682.0,1130.0M626.4,1067.4L689.0,1130.0M633.4,1067.4L696.0,1130.0M640.4,1067.4L703.0,1130.0M647.4,1067.4L710.0,1130.0M654.4,1067.4L717.0,1130.0M661.4,1067.4L724.0,1130.0M668.4,1067.4L731.0,1130.0M675.4,1067.4L738.0,1130.0M682.4,1067.4L745.0,1130.0M689.4,1067.4L752.0,1130.0M696.4,1067.4L759.0,1130.0M703.4,1067.4L766.0,1130.0M710.4,1067.4L773.0,1130.0M717.4,1067.4L780.0,1130.0M724.4,1067.4L787.0,1130.0M731.4,1067.4L794.0,1130.0" fill="none" stroke="#2b2b2b" stroke-width="1.15"/>
<polygon points="653.0,1079.0 677.0,1079.0 677.0,1067.4 736.1,1067.4 736.1,1077.4 729.0,1077.4 729.0,1130.0 721.0,1127.5 713.2,1124.0 712.8,1103.2 708.0,1097.0 702.4,1092.9 660.4,1092.9 660.4,1090.0 653.0,1090.0" fill="none" stroke="#2b2b2b" stroke-width="1.3"/>
<clipPath id="c11"><polygon points="753.9,1067.4 813.0,1067.4 813.0,1079.0 838.8,1079.0 838.8,1091.6 825.0,1091.6 823.5,1099.0 816.3,1106.5 799.7,1112.0 799.7,1082.0 797.0,1079.0 753.9,1079.0"/></clipPath>
<polygon points="753.9,1067.4 813.0,1067.4 813.0,1079.0 838.8,1079.0 838.8,1091.6 825.0,1091.6 823.5,1099.0 816.3,1106.5 799.7,1112.0 799.7,1082.0 797.0,1079.0 753.9,1079.0" fill="#fbfbfb" stroke="none"/>
<path clip-path="url(#c11)" d="M708.0,1112.0L752.6,1067.4M715.0,1112.0L759.6,1067.4M722.0,1112.0L766.6,1067.4M729.0,1112.0L773.6,1067.4M736.0,1112.0L780.6,1067.4M743.0,1112.0L787.6,1067.4M750.0,1112.0L794.6,1067.4M757.0,1112.0L801.6,1067.4M764.0,1112.0L808.6,1067.4M771.0,1112.0L815.6,1067.4M778.0,1112.0L822.6,1067.4M785.0,1112.0L829.6,1067.4M792.0,1112.0L836.6,1067.4M799.0,1112.0L843.6,1067.4M806.0,1112.0L850.6,1067.4M813.0,1112.0L857.6,1067.4M820.0,1112.0L864.6,1067.4M827.0,1112.0L871.6,1067.4M834.0,1112.0L878.6,1067.4M703.4,1067.4L748.0,1112.0M710.4,1067.4L755.0,1112.0M717.4,1067.4L762.0,1112.0M724.4,1067.4L769.0,1112.0M731.4,1067.4L776.0,1112.0M738.4,1067.4L783.0,1112.0M745.4,1067.4L790.0,1112.0M752.4,1067.4L797.0,1112.0M759.4,1067.4L804.0,1112.0M766.4,1067.4L811.0,1112.0M773.4,1067.4L818.0,1112.0M780.4,1067.4L825.0,1112.0M787.4,1067.4L832.0,1112.0M794.4,1067.4L839.0,1112.0M801.4,1067.4L846.0,1112.0M808.4,1067.4L853.0,1112.0M815.4,1067.4L860.0,1112.0M822.4,1067.4L867.0,1112.0M829.4,1067.4L874.0,1112.0M836.4,1067.4L881.0,1112.0" fill="none" stroke="#2b2b2b" stroke-width="1.15"/>
<polygon points="753.9,1067.4 813.0,1067.4 813.0,1079.0 838.8,1079.0 838.8,1091.6 825.0,1091.6 823.5,1099.0 816.3,1106.5 799.7,1112.0 799.7,1082.0 797.0,1079.0 753.9,1079.0" fill="none" stroke="#2b2b2b" stroke-width="1.3"/>
<clipPath id="c12"><polygon points="839.6,1079.0 863.7,1079.0 864.0,1067.4 924.0,1067.4 924.0,1077.4 915.6,1077.4 915.6,1130.0 908.0,1127.5 900.7,1124.0 900.7,1103.0 896.0,1097.0 891.5,1092.9 850.4,1092.9 850.4,1090.0 839.6,1090.0"/></clipPath>
<polygon points="839.6,1079.0 863.7,1079.0 864.0,1067.4 924.0,1067.4 924.0,1077.4 915.6,1077.4 915.6,1130.0 908.0,1127.5 900.7,1124.0 900.7,1103.0 896.0,1097.0 891.5,1092.9 850.4,1092.9 850.4,1090.0 839.6,1090.0" fill="#fbfbfb" stroke="none"/>
<path clip-path="url(#c12)" d="M774.0,1130.0L836.6,1067.4M781.0,1130.0L843.6,1067.4M788.0,1130.0L850.6,1067.4M795.0,1130.0L857.6,1067.4M802.0,1130.0L864.6,1067.4M809.0,1130.0L871.6,1067.4M816.0,1130.0L878.6,1067.4M823.0,1130.0L885.6,1067.4M830.0,1130.0L892.6,1067.4M837.0,1130.0L899.6,1067.4M844.0,1130.0L906.6,1067.4M851.0,1130.0L913.6,1067.4M858.0,1130.0L920.6,1067.4M865.0,1130.0L927.6,1067.4M872.0,1130.0L934.6,1067.4M879.0,1130.0L941.6,1067.4M886.0,1130.0L948.6,1067.4M893.0,1130.0L955.6,1067.4M900.0,1130.0L962.6,1067.4M907.0,1130.0L969.6,1067.4M914.0,1130.0L976.6,1067.4M921.0,1130.0L983.6,1067.4M773.4,1067.4L836.0,1130.0M780.4,1067.4L843.0,1130.0M787.4,1067.4L850.0,1130.0M794.4,1067.4L857.0,1130.0M801.4,1067.4L864.0,1130.0M808.4,1067.4L871.0,1130.0M815.4,1067.4L878.0,1130.0M822.4,1067.4L885.0,1130.0M829.4,1067.4L892.0,1130.0M836.4,1067.4L899.0,1130.0M843.4,1067.4L906.0,1130.0M850.4,1067.4L913.0,1130.0M857.4,1067.4L920.0,1130.0M864.4,1067.4L927.0,1130.0M871.4,1067.4L934.0,1130.0M878.4,1067.4L941.0,1130.0M885.4,1067.4L948.0,1130.0M892.4,1067.4L955.0,1130.0M899.4,1067.4L962.0,1130.0M906.4,1067.4L969.0,1130.0M913.4,1067.4L976.0,1130.0M920.4,1067.4L983.0,1130.0" fill="none" stroke="#2b2b2b" stroke-width="1.15"/>
<polygon points="839.6,1079.0 863.7,1079.0 864.0,1067.4 924.0,1067.4 924.0,1077.4 915.6,1077.4 915.6,1130.0 908.0,1127.5 900.7,1124.0 900.7,1103.0 896.0,1097.0 891.5,1092.9 850.4,1092.9 850.4,1090.0 839.6,1090.0" fill="none" stroke="#2b2b2b" stroke-width="1.3"/>
<clipPath id="c13"><polygon points="941.4,1067.4 1013.0,1067.4 1025.0,1079.7 1036.4,1079.7 1036.4,1091.6 1021.0,1091.6 1012.5,1098.0 1004.0,1106.5 989.6,1112.5 989.6,1088.0 983.8,1079.0 941.4,1079.0"/></clipPath>
<polygon points="941.4,1067.4 1013.0,1067.4 1025.0,1079.7 1036.4,1079.7 1036.4,1091.6 1021.0,1091.6 1012.5,1098.0 1004.0,1106.5 989.6,1112.5 989.6,1088.0 983.8,1079.0 941.4,1079.0" fill="#fbfbfb" stroke="none"/>
<path clip-path="url(#c13)" d="M889.5,1112.5L934.6,1067.4M896.5,1112.5L941.6,1067.4M903.5,1112.5L948.6,1067.4M910.5,1112.5L955.6,1067.4M917.5,1112.5L962.6,1067.4M924.5,1112.5L969.6,1067.4M931.5,1112.5L976.6,1067.4M938.5,1112.5L983.6,1067.4M945.5,1112.5L990.6,1067.4M952.5,1112.5L997.6,1067.4M959.5,1112.5L1004.6,1067.4M966.5,1112.5L1011.6,1067.4M973.5,1112.5L1018.6,1067.4M980.5,1112.5L1025.6,1067.4M987.5,1112.5L1032.6,1067.4M994.5,1112.5L1039.6,1067.4M1001.5,1112.5L1046.6,1067.4M1008.5,1112.5L1053.6,1067.4M1015.5,1112.5L1060.6,1067.4M1022.5,1112.5L1067.6,1067.4M1029.5,1112.5L1074.6,1067.4M892.4,1067.4L937.5,1112.5M899.4,1067.4L944.5,1112.5M906.4,1067.4L951.5,1112.5M913.4,1067.4L958.5,1112.5M920.4,1067.4L965.5,1112.5M927.4,1067.4L972.5,1112.5M934.4,1067.4L979.5,1112.5M941.4,1067.4L986.5,1112.5M948.4,1067.4L993.5,1112.5M955.4,1067.4L1000.5,1112.5M962.4,1067.4L1007.5,1112.5M969.4,1067.4L1014.5,1112.5M976.4,1067.4L1021.5,1112.5M983.4,1067.4L1028.5,1112.5M990.4,1067.4L1035.5,1112.5M997.4,1067.4L1042.5,1112.5M1004.4,1067.4L1049.5,1112.5M1011.4,1067.4L1056.5,1112.5M1018.4,1067.4L1063.5,1112.5M1025.4,1067.4L1070.5,1112.5M1032.4,1067.4L1077.5,1112.5" fill="none" stroke="#2b2b2b" stroke-width="1.15"/>
<polygon points="941.4,1067.4 1013.0,1067.4 1025.0,1079.7 1036.4,1079.7 1036.4,1091.6 1021.0,1091.6 1012.5,1098.0 1004.0,1106.5 989.6,1112.5 989.6,1088.0 983.8,1079.0 941.4,1079.0" fill="none" stroke="#2b2b2b" stroke-width="1.3"/>
<clipPath id="c14"><polygon points="941.6,973.2 1013.0,973.2 1025.0,959.5 1036.4,959.5 1036.4,1079.7 1025.0,1079.7 1013.0,1067.4 941.6,1067.4 941.6,1056.0 972.9,1056.0 972.9,1041.5 1009.3,1041.5 1009.3,999.1 972.9,999.1 972.9,984.6 941.6,984.6"/></clipPath>
<polygon points="941.6,973.2 1013.0,973.2 1025.0,959.5 1036.4,959.5 1036.4,1079.7 1025.0,1079.7 1013.0,1067.4 941.6,1067.4 941.6,1056.0 972.9,1056.0 972.9,1041.5 1009.3,1041.5 1009.3,999.1 972.9,999.1 972.9,984.6 941.6,984.6" fill="#fbfbfb" stroke="none"/>
<path clip-path="url(#c14)" d="M820.9,1079.7L941.1,959.5M829.5,1079.7L949.7,959.5M838.1,1079.7L958.3,959.5M846.7,1079.7L966.9,959.5M855.3,1079.7L975.5,959.5M863.9,1079.7L984.1,959.5M872.5,1079.7L992.7,959.5M881.1,1079.7L1001.3,959.5M889.7,1079.7L1009.9,959.5M898.3,1079.7L1018.5,959.5M906.9,1079.7L1027.1,959.5M915.5,1079.7L1035.7,959.5M924.1,1079.7L1044.3,959.5M932.7,1079.7L1052.9,959.5M941.3,1079.7L1061.5,959.5M949.9,1079.7L1070.1,959.5M958.5,1079.7L1078.7,959.5M967.1,1079.7L1087.3,959.5M975.7,1079.7L1095.9,959.5M984.3,1079.7L1104.5,959.5M992.9,1079.7L1113.1,959.5M1001.5,1079.7L1121.7,959.5M1010.1,1079.7L1130.3,959.5M1018.7,1079.7L1138.9,959.5M1027.3,1079.7L1147.5,959.5M1035.9,1079.7L1156.1,959.5" fill="none" stroke="#2b2b2b" stroke-width="1.25"/>
<polygon points="941.6,973.2 1013.0,973.2 1025.0,959.5 1036.4,959.5 1036.4,1079.7 1025.0,1079.7 1013.0,1067.4 941.6,1067.4 941.6,1056.0 972.9,1056.0 972.9,1041.5 1009.3,1041.5 1009.3,999.1 972.9,999.1 972.9,984.6 941.6,984.6" fill="none" stroke="#2b2b2b" stroke-width="1.3"/>
<rect x="1025.8" y="982.1" width="10.7" height="71.9" fill="#fbfbfb" stroke="#2b2b2b" stroke-width="1.3"/>
<line x1="1025.6" y1="1005.9" x2="1036.4" y2="1005.9" stroke="#2b2b2b" stroke-width="0.9" />
<line x1="1025.6" y1="1031.7" x2="1036.4" y2="1031.7" stroke="#2b2b2b" stroke-width="0.9" />
<clipPath id="c15"><polygon points="937.5,984.6 972.9,984.6 972.9,999.1 1009.3,999.1 1009.3,1003.5 965.6,1003.5 965.6,990.9 937.5,990.9"/></clipPath>
<polygon points="937.5,984.6 972.9,984.6 972.9,999.1 1009.3,999.1 1009.3,1003.5 965.6,1003.5 965.6,990.9 937.5,990.9" fill="#fbfbfb" stroke="none"/>
<path clip-path="url(#c15)" d="M916.6,984.6L935.5,1003.5M920.0,984.6L938.9,1003.5M923.4,984.6L942.3,1003.5M926.8,984.6L945.7,1003.5M930.2,984.6L949.1,1003.5M933.6,984.6L952.5,1003.5M937.0,984.6L955.9,1003.5M940.4,984.6L959.3,1003.5M943.8,984.6L962.7,1003.5M947.2,984.6L966.1,1003.5M950.6,984.6L969.5,1003.5M954.0,984.6L972.9,1003.5M957.4,984.6L976.3,1003.5M960.8,984.6L979.7,1003.5M964.2,984.6L983.1,1003.5M967.6,984.6L986.5,1003.5M971.0,984.6L989.9,1003.5M974.4,984.6L993.3,1003.5M977.8,984.6L996.7,1003.5M981.2,984.6L1000.1,1003.5M984.6,984.6L1003.5,1003.5M988.0,984.6L1006.9,1003.5M991.4,984.6L1010.3,1003.5M994.8,984.6L1013.7,1003.5M998.2,984.6L1017.1,1003.5M1001.6,984.6L1020.5,1003.5M1005.0,984.6L1023.9,1003.5M1008.4,984.6L1027.3,1003.5" fill="none" stroke="#2b2b2b" stroke-width="0.8"/>
<polygon points="937.5,984.6 972.9,984.6 972.9,999.1 1009.3,999.1 1009.3,1003.5 965.6,1003.5 965.6,990.9 937.5,990.9" fill="none" stroke="#2b2b2b" stroke-width="1.3"/>
<clipPath id="c16"><polygon points="937.5,1056.0 972.9,1056.0 972.9,1041.5 1009.3,1041.5 1009.3,1037.1 965.6,1037.1 965.6,1049.7 937.5,1049.7"/></clipPath>
<polygon points="937.5,1056.0 972.9,1056.0 972.9,1041.5 1009.3,1041.5 1009.3,1037.1 965.6,1037.1 965.6,1049.7 937.5,1049.7" fill="#fbfbfb" stroke="none"/>
<path clip-path="url(#c16)" d="M918.1,1037.1L937.0,1056.0M921.5,1037.1L940.4,1056.0M924.9,1037.1L943.8,1056.0M928.3,1037.1L947.2,1056.0M931.7,1037.1L950.6,1056.0M935.1,1037.1L954.0,1056.0M938.5,1037.1L957.4,1056.0M941.9,1037.1L960.8,1056.0M945.3,1037.1L964.2,1056.0M948.7,1037.1L967.6,1056.0M952.1,1037.1L971.0,1056.0M955.5,1037.1L974.4,1056.0M958.9,1037.1L977.8,1056.0M962.3,1037.1L981.2,1056.0M965.7,1037.1L984.6,1056.0M969.1,1037.1L988.0,1056.0M972.5,1037.1L991.4,1056.0M975.9,1037.1L994.8,1056.0M979.3,1037.1L998.2,1056.0M982.7,1037.1L1001.6,1056.0M986.1,1037.1L1005.0,1056.0M989.5,1037.1L1008.4,1056.0M992.9,1037.1L1011.8,1056.0M996.3,1037.1L1015.2,1056.0M999.7,1037.1L1018.6,1056.0M1003.1,1037.1L1022.0,1056.0M1006.5,1037.1L1025.4,1056.0" fill="none" stroke="#2b2b2b" stroke-width="0.8"/>
<polygon points="937.5,1056.0 972.9,1056.0 972.9,1041.5 1009.3,1041.5 1009.3,1037.1 965.6,1037.1 965.6,1049.7 937.5,1049.7" fill="none" stroke="#2b2b2b" stroke-width="1.3"/>
<line x1="1009.3" y1="1003.5" x2="1009.3" y2="1037.1" stroke="#2b2b2b" stroke-width="1.3" />
<rect x="1037.2" y="947" width="9" height="144" fill="#fbfbfb" stroke="none"/>
<polyline points="1020.6,946.6 1020.6,943.3 1046.4,943.3 1046.4,1094.6 1020.6,1094.6 1020.6,1091.6" fill="none" stroke="#2b2b2b" stroke-width="1.3" />
<polyline points="1028.0,947.5 1043.0,947.5 1043.0,1090.8 1028.0,1090.8" fill="none" stroke="#2b2b2b" stroke-width="0.9" />
<line x1="1037.2" y1="947.5" x2="1037.2" y2="1090.8" stroke="#2b2b2b" stroke-width="0.9" />
<rect x="497.2" y="997.3" width="57.4" height="45.7" fill="#fbfbfb" stroke="#2b2b2b" stroke-width="1.3"/>
<line x1="497.2" y1="999.8" x2="554.6" y2="999.8" stroke="#2b2b2b" stroke-width="0.9" />
<line x1="497.2" y1="1040.6" x2="554.6" y2="1040.6" stroke="#2b2b2b" stroke-width="0.9" />
<line x1="500.0" y1="997.3" x2="500.0" y2="1043.0" stroke="#2b2b2b" stroke-width="0.9" />
<polygon points="564.2,1003.2 645.1,1003.2 650.6,1018.3 650.6,1022.3 645.1,1037.3 564.2,1037.3" fill="#fbfbfb" stroke="#2b2b2b" stroke-width="1.3" />
<line x1="564.2" y1="1005.3" x2="645.1" y2="1005.3" stroke="#2b2b2b" stroke-width="0.9" />
<line x1="564.2" y1="1035.2" x2="645.1" y2="1035.2" stroke="#2b2b2b" stroke-width="0.9" />
<line x1="641.5" y1="1003.2" x2="641.5" y2="1037.3" stroke="#2b2b2b" stroke-width="0.9" />
<line x1="645.1" y1="1003.2" x2="645.1" y2="1037.3" stroke="#2b2b2b" stroke-width="0.9" />
<polygon points="741.2,997.8 688.9,997.8 684.4,1018.3 684.4,1022.3 688.9,1040.6 741.2,1040.6" fill="#fbfbfb" stroke="#2b2b2b" stroke-width="1.3" />
<line x1="741.2" y1="1000.4" x2="688.9" y2="1000.4" stroke="#2b2b2b" stroke-width="0.9" />
<line x1="741.2" y1="1038.0" x2="688.9" y2="1038.0" stroke="#2b2b2b" stroke-width="0.9" />
<line x1="688.9" y1="997.8" x2="688.9" y2="1040.6" stroke="#2b2b2b" stroke-width="0.9" />
<line x1="692.2" y1="997.8" x2="692.2" y2="1040.6" stroke="#2b2b2b" stroke-width="0.9" />
<polygon points="750.3,1002.0 832.4,1002.0 838.0,1018.3 838.0,1022.3 832.4,1037.0 750.3,1037.0" fill="#fbfbfb" stroke="#2b2b2b" stroke-width="1.3" />
<line x1="750.3" y1="1004.1" x2="832.4" y2="1004.1" stroke="#2b2b2b" stroke-width="0.9" />
<line x1="750.3" y1="1034.9" x2="832.4" y2="1034.9" stroke="#2b2b2b" stroke-width="0.9" />
<line x1="829.8" y1="1002.0" x2="829.8" y2="1037.0" stroke="#2b2b2b" stroke-width="0.9" />
<line x1="832.4" y1="1002.0" x2="832.4" y2="1037.0" stroke="#2b2b2b" stroke-width="0.9" />
<polygon points="928.8,997.3 876.4,997.3 871.4,1018.3 871.4,1022.3 876.4,1042.2 928.8,1042.2" fill="#fbfbfb" stroke="#2b2b2b" stroke-width="1.3" />
<line x1="928.8" y1="999.9" x2="876.4" y2="999.9" stroke="#2b2b2b" stroke-width="0.9" />
<line x1="928.8" y1="1039.6" x2="876.4" y2="1039.6" stroke="#2b2b2b" stroke-width="0.9" />
<line x1="876.4" y1="997.3" x2="876.4" y2="1042.2" stroke="#2b2b2b" stroke-width="0.9" />
<line x1="880.5" y1="997.3" x2="880.5" y2="1042.2" stroke="#2b2b2b" stroke-width="0.9" />
<polygon points="554.6,986.5 564.2,986.5 564.2,1081.6 595.6,1085.2 595.6,1148.1 561.5,1148.1 561.5,1091.6 554.6,1091.6" fill="#fbfbfb" stroke="#2b2b2b" stroke-width="1.3" />
<rect x="564.8" y="1114.8" width="6.3" height="8.2" fill="#fbfbfb" stroke="#2b2b2b" stroke-width="0.9"/>
<rect x="564.8" y="1126.5" width="6.3" height="8.2" fill="#fbfbfb" stroke="#2b2b2b" stroke-width="0.9"/>
<rect x="564.8" y="1138.5" width="6.3" height="8.2" fill="#fbfbfb" stroke="#2b2b2b" stroke-width="0.9"/>
<rect x="575.3" y="1114.8" width="6.3" height="8.2" fill="#fbfbfb" stroke="#2b2b2b" stroke-width="0.9"/>
<rect x="575.3" y="1126.5" width="6.3" height="8.2" fill="#fbfbfb" stroke="#2b2b2b" stroke-width="0.9"/>
<rect x="575.3" y="1138.5" width="6.3" height="8.2" fill="#fbfbfb" stroke="#2b2b2b" stroke-width="0.9"/>
<rect x="584.8" y="1114.8" width="6.3" height="8.2" fill="#fbfbfb" stroke="#2b2b2b" stroke-width="0.9"/>
<rect x="584.8" y="1126.5" width="6.3" height="8.2" fill="#fbfbfb" stroke="#2b2b2b" stroke-width="0.9"/>
<rect x="584.8" y="1138.5" width="6.3" height="8.2" fill="#fbfbfb" stroke="#2b2b2b" stroke-width="0.9"/>
<polyline points="567.3,1148.1 567.3,1158.9 560.7,1166.4 560.7,1204.5" fill="none" stroke="#2b2b2b" stroke-width="1.3" />
<polyline points="588.9,1148.1 588.9,1158.9 595.9,1166.4 595.9,1204.5" fill="none" stroke="#2b2b2b" stroke-width="1.3" />
<line x1="567.3" y1="1158.9" x2="588.9" y2="1158.9" stroke="#2b2b2b" stroke-width="0.9" />
<polyline points="541.7,1204.5 614.7,1204.5" fill="none" stroke="#2b2b2b" stroke-width="1.3" />
<polyline points="541.2,1328.0 540.6,1391.8 544.1,1396.9 610.6,1396.9 615.7,1391.8 615.6,1326.4" fill="none" stroke="#2b2b2b" stroke-width="1.3" />
<line x1="549.7" y1="1336.6" x2="601.8" y2="1336.6" stroke="#2b2b2b" stroke-width="0.9" />
<line x1="555.2" y1="1347.0" x2="592.9" y2="1347.0" stroke="#2b2b2b" stroke-width="0.9" />
<line x1="549.7" y1="1390.2" x2="599.6" y2="1390.2" stroke="#2b2b2b" stroke-width="0.9" />
<polyline points="553.4,1396.9 553.4,1461.0 564.0,1453.2 575.0,1453.2 586.0,1459.4 600.6,1460.3 600.6,1396.9" fill="none" stroke="#2b2b2b" stroke-width="1.3" />
<polygon points="740.8,986.5 750.2,986.5 750.2,1084.9 782.2,1089.0 782.2,1125.0 747.3,1140.0 747.3,1094.9 740.8,1094.9" fill="#fbfbfb" stroke="#2b2b2b" stroke-width="1.3" />
<rect x="751.1" y="1119.8" width="5.8" height="8.4" fill="#fbfbfb" stroke="#2b2b2b" stroke-width="0.9"/>
<rect x="761.9" y="1119.8" width="5.8" height="8.4" fill="#fbfbfb" stroke="#2b2b2b" stroke-width="0.9"/>
<rect x="771.6" y="1119.8" width="5.8" height="8.4" fill="#fbfbfb" stroke="#2b2b2b" stroke-width="0.9"/>
<polygon points="928.5,985.7 937.0,985.7 937.0,1084.9 970.2,1089.0 970.2,1125.0 935.3,1140.0 935.3,1094.9 928.5,1094.9" fill="#fbfbfb" stroke="#2b2b2b" stroke-width="1.3" />
<rect x="939.1" y="1119.8" width="5.8" height="8.4" fill="#fbfbfb" stroke="#2b2b2b" stroke-width="0.9"/>
<rect x="949.9" y="1119.8" width="5.8" height="8.4" fill="#fbfbfb" stroke="#2b2b2b" stroke-width="0.9"/>
<rect x="959.6" y="1119.8" width="5.8" height="8.4" fill="#fbfbfb" stroke="#2b2b2b" stroke-width="0.9"/>
<path d="M713.2,1123.2 L720.2,1125.2 L728.7,1128.4 L739.8,1135.1 L756.4,1135.1 L766.0,1128.7 L781.4,1118.4 L799.7,1110.0 L816.3,1104.9 L820.5,1101.5 L823.5,1097.0 L823.5,1324.5 L811.2,1328.5 C797.2,1326 785.2,1314 768.2,1312.5 C753.2,1311 738.2,1314 716.2,1327.5 L713.2,1329.5 Z" fill="#fbfbfb" stroke="#2b2b2b" stroke-width="1.3" />
<path d="M900.7,1123.2 L907.7,1125.2 L916.2,1128.4 L927.8,1135.1 L944.4,1135.1 L954.0,1128.7 L969.4,1118.4 L987.7,1110.0 L1004.3,1104.9 L1009.5,1101.5 L1012.5,1097.0 L1012.5,1324.5 L998.7,1328.5 C984.7,1326 972.7,1314 955.7,1312.5 C940.7,1311 925.7,1314 903.7,1327.5 L900.7,1329.5 Z" fill="#fbfbfb" stroke="#2b2b2b" stroke-width="1.3" />
<rect x="937.0" y="990.9" width="12.1" height="56.8" fill="#fbfbfb" stroke="#2b2b2b" stroke-width="1.3"/>
<line x1="943.3" y1="990.9" x2="943.3" y2="1047.7" stroke="#2b2b2b" stroke-width="0.9" />
<line x1="943.7" y1="1014.8" x2="949.6" y2="1023.0" stroke="#2b2b2b" stroke-width="0.9" />
<rect x="950.1" y="991.8" width="15.0" height="54.9" fill="#fbfbfb" stroke="#2b2b2b" stroke-width="1.3"/>
<line x1="950.1" y1="1008.8" x2="965.1" y2="1008.8" stroke="#2b2b2b" stroke-width="0.9" />
<line x1="950.1" y1="1029.2" x2="965.1" y2="1029.2" stroke="#2b2b2b" stroke-width="0.9" />
<rect x="965.6" y="1004.0" width="37.9" height="29.6" fill="#fbfbfb" stroke="#2b2b2b" stroke-width="1.3"/>
<line x1="965.6" y1="1006.9" x2="1000.6" y2="1006.9" stroke="#2b2b2b" stroke-width="0.8" />
<line x1="965.6" y1="1032.1" x2="1000.6" y2="1032.1" stroke="#2b2b2b" stroke-width="0.8" />
<line x1="1000.6" y1="1004.0" x2="1000.6" y2="1033.6" stroke="#2b2b2b" stroke-width="0.9" />
<path d="M634.0,1152.2 L635.5,1144.3 L652.7,1144.3 Q656.2,1144.3 656.2,1147.8 L656.2,1203 Q656.2,1206.5 652.7,1206.5 L636.2,1206.5 L636.2,1198.3 L634.0,1198.3" fill="#fbfbfb" stroke="#555" stroke-width="1.3" />
<polyline points="634.0,1152.2 627.4,1176.4 634.0,1198.3" fill="none" stroke="#2b2b2b" stroke-width="1.1" />
<polyline points="656.2,1159.1 664.8,1159.1 672.8,1166.7 672.8,1177.1 664.8,1184.7 656.2,1184.7" fill="none" stroke="#555" stroke-width="1.2" />
<polyline points="656.2,1161.9 663.6,1161.9 670.3,1167.5 670.3,1176.3 663.6,1182.0 656.2,1182.0" fill="none" stroke="#555" stroke-width="1.0" />
<path d="M825.5,1152.2 L827.0,1144.3 L842.3,1144.3 Q845.8,1144.3 845.8,1147.8 L845.8,1203 Q845.8,1206.5 842.3,1206.5 L827.7,1206.5 L827.7,1198.3 L825.5,1198.3" fill="#fbfbfb" stroke="#555" stroke-width="1.3" />
<polyline points="825.5,1152.2 818.0,1176.4 825.5,1198.3" fill="none" stroke="#2b2b2b" stroke-width="1.1" />
<polyline points="845.8,1159.1 855.5,1159.1 862.9,1166.7 862.9,1177.1 855.5,1184.7 845.8,1184.7" fill="none" stroke="#555" stroke-width="1.2" />
<polyline points="845.8,1161.9 854.3,1161.9 860.4,1167.5 860.4,1176.3 854.3,1182.0 845.8,1182.0" fill="none" stroke="#555" stroke-width="1.0" />
<path d="M1014.6,1152.2 L1016.1,1144.3 L1031.9,1144.3 Q1035.4,1144.3 1035.4,1147.8 L1035.4,1203 Q1035.4,1206.5 1031.9,1206.5 L1016.8,1206.5 L1016.8,1198.3 L1014.6,1198.3" fill="#fbfbfb" stroke="#555" stroke-width="1.3" />
<polyline points="1014.6,1152.2 1007.0,1176.4 1014.6,1198.3" fill="none" stroke="#2b2b2b" stroke-width="1.1" />
<polyline points="1035.4,1159.1 1044.5,1159.1 1051.0,1166.7 1051.0,1177.1 1044.5,1184.7 1035.4,1184.7" fill="none" stroke="#555" stroke-width="1.2" />
<polyline points="1035.4,1161.9 1043.3,1161.9 1048.5,1167.5 1048.5,1176.3 1043.3,1182.0 1035.4,1182.0" fill="none" stroke="#555" stroke-width="1.0" />
<line x1="401.5" y1="1020.3" x2="1043.0" y2="1020.3" stroke="#2b2b2b" stroke-width="1" stroke-dasharray="20 5 9 5"/>
<line x1="577.8" y1="1182.0" x2="577.8" y2="1545.0" stroke="#2b2b2b" stroke-width="1" stroke-dasharray="17 5"/>
<line x1="577.8" y1="1543.0" x2="577.8" y2="1566.0" stroke="#2b2b2b" stroke-width="1" />
<line x1="766.2" y1="1176.0" x2="766.2" y2="1545.0" stroke="#2b2b2b" stroke-width="1" stroke-dasharray="17 5"/>
<line x1="766.2" y1="1543.0" x2="766.2" y2="1566.0" stroke="#2b2b2b" stroke-width="1" />
<line x1="953.0" y1="1176.0" x2="953.0" y2="1545.0" stroke="#2b2b2b" stroke-width="1" stroke-dasharray="17 5"/>
<line x1="953.0" y1="1543.0" x2="953.0" y2="1566.0" stroke="#2b2b2b" stroke-width="1" />
<line x1="359.7" y1="1554.5" x2="953.0" y2="1554.5" stroke="#777" stroke-width="1.6" />
<polygon points="359.7,1554.5 368.7,1552.3 368.7,1556.7" fill="#111" stroke="#111" stroke-width="0.5" />
<polygon points="577.8,1554.5 568.8,1552.3 568.8,1556.7" fill="#111" stroke="#111" stroke-width="0.5" />
<polygon points="577.8,1554.5 586.8,1552.3 586.8,1556.7" fill="#111" stroke="#111" stroke-width="0.5" />
<polygon points="766.2,1554.5 757.2,1552.3 757.2,1556.7" fill="#111" stroke="#111" stroke-width="0.5" />
<polygon points="766.2,1554.5 775.2,1552.3 775.2,1556.7" fill="#111" stroke="#111" stroke-width="0.5" />
<polygon points="953.0,1554.5 944.0,1552.3 944.0,1556.7" fill="#111" stroke="#111" stroke-width="0.5" />
<text x="457.3" y="1552.0" font-size="16.5" text-anchor="middle" letter-spacing="-0.6">130</text>
<text x="660.3" y="1552.0" font-size="16.5" text-anchor="middle" letter-spacing="-0.6">166</text>
<text x="849.3" y="1552.0" font-size="16.5" text-anchor="middle" letter-spacing="-0.6">166</text>
<text x="315.0" y="887.0" font-size="16.5" text-anchor="middle" >1</text>
<polyline points="311.0,892.5 331.5,892.5" fill="none" stroke="#2b2b2b" stroke-width="1.3" />
<line x1="331.5" y1="892.5" x2="425.2" y2="995.2" stroke="#2b2b2b" stroke-width="1.3" />
<circle cx="425.2" cy="995.2" r="3.0" fill="#111"/>
<text x="411.0" y="882.0" font-size="16.5" text-anchor="middle" >2</text>
<polyline points="397.0,884.5 432.0,884.5" fill="none" stroke="#2b2b2b" stroke-width="1.3" />
<line x1="432.0" y1="884.5" x2="500.5" y2="967.1" stroke="#2b2b2b" stroke-width="1.3" />
<circle cx="500.5" cy="967.1" r="3.0" fill="#111"/>
<text x="453.5" y="877.5" font-size="16.5" text-anchor="middle" >3</text>
<polyline points="441.5,884.0 473.0,884.0" fill="none" stroke="#2b2b2b" stroke-width="1.3" />
<line x1="473.0" y1="884.0" x2="559.0" y2="1011.0" stroke="#2b2b2b" stroke-width="1.3" />
<circle cx="559.0" cy="1011.0" r="3.0" fill="#111"/>
<text x="499.5" y="881.0" font-size="16.5" text-anchor="middle" >4</text>
<polyline points="481.5,884.0 518.0,884.0" fill="none" stroke="#2b2b2b" stroke-width="1.3" />
<line x1="518.0" y1="884.0" x2="602.4" y2="1011.2" stroke="#2b2b2b" stroke-width="1.3" />
<circle cx="602.4" cy="1011.2" r="3.0" fill="#111"/>
<text x="571.0" y="879.0" font-size="16.5" text-anchor="middle" >5</text>
<polyline points="559.5,884.8 594.3,884.8" fill="none" stroke="#2b2b2b" stroke-width="1.3" />
<line x1="594.3" y1="884.8" x2="650.9" y2="947.5" stroke="#2b2b2b" stroke-width="1.3" />
<text x="635.4" y="879.0" font-size="16.5" text-anchor="middle" >6</text>
<polyline points="623.2,880.3 655.3,880.3" fill="none" stroke="#2b2b2b" stroke-width="1.3" />
<line x1="655.3" y1="880.3" x2="713.0" y2="983.0" stroke="#2b2b2b" stroke-width="1.3" />
<circle cx="713.0" cy="983.0" r="3.0" fill="#111"/>
<text x="700.3" y="879.0" font-size="16.5" text-anchor="middle" >3</text>
<polyline points="684.2,883.7 718.5,883.7" fill="none" stroke="#2b2b2b" stroke-width="1.3" />
<line x1="718.5" y1="883.7" x2="747.8" y2="1010.5" stroke="#2b2b2b" stroke-width="1.3" />
<circle cx="747.8" cy="1010.5" r="3.0" fill="#111"/>
<text x="770.0" y="874.5" font-size="16.5" text-anchor="middle" >4</text>
<polyline points="758.5,878.1 794.6,878.1" fill="none" stroke="#2b2b2b" stroke-width="1.3" />
<line x1="758.5" y1="878.1" x2="772.2" y2="1010.8" stroke="#2b2b2b" stroke-width="1.3" />
<circle cx="772.2" cy="1010.8" r="3.0" fill="#111"/>
<text x="827.2" y="874.0" font-size="16.5" text-anchor="middle" >6</text>
<polyline points="812.3,877.0 846.0,877.0" fill="none" stroke="#2b2b2b" stroke-width="1.3" />
<line x1="812.3" y1="877.0" x2="824.5" y2="983.0" stroke="#2b2b2b" stroke-width="1.3" />
<circle cx="824.5" cy="983.0" r="3.0" fill="#111"/>
<text x="858.8" y="834.5" font-size="16.5" text-anchor="middle" >5</text>
<polyline points="844.8,837.7 879.4,837.7" fill="none" stroke="#2b2b2b" stroke-width="1.3" />
<line x1="879.4" y1="837.7" x2="894.3" y2="959.0" stroke="#2b2b2b" stroke-width="1.3" />
<circle cx="894.3" cy="959.0" r="3.0" fill="#111"/>
<text x="926.0" y="860.0" font-size="16.5" text-anchor="middle" >4</text>
<polyline points="910.5,861.0 946.4,861.0" fill="none" stroke="#2b2b2b" stroke-width="1.3" />
<line x1="910.5" y1="861.0" x2="901.4" y2="1010.0" stroke="#2b2b2b" stroke-width="1.3" />
<circle cx="901.4" cy="1010.0" r="3.0" fill="#111"/>
<text x="967.5" y="872.7" font-size="16.5" text-anchor="middle" >3</text>
<polyline points="947.0,875.8 981.9,875.8" fill="none" stroke="#2b2b2b" stroke-width="1.3" />
<line x1="947.0" y1="875.8" x2="935.4" y2="1009.5" stroke="#2b2b2b" stroke-width="1.3" />
<circle cx="935.4" cy="1009.5" r="3.0" fill="#111"/>
<text x="1060.0" y="872.0" font-size="16.5" text-anchor="middle" >7</text>
<polyline points="1042.4,876.5 1075.7,876.5" fill="none" stroke="#2b2b2b" stroke-width="1.3" />
<line x1="1042.4" y1="876.5" x2="1016.3" y2="1011.1" stroke="#2b2b2b" stroke-width="1.3" />
<circle cx="1016.3" cy="1011.1" r="3.0" fill="#111"/>
<text x="1108.3" y="872.0" font-size="16.5" text-anchor="middle" >11</text>
<polyline points="1091.0,875.4 1129.4,875.4" fill="none" stroke="#2b2b2b" stroke-width="1.3" />
<line x1="1091.0" y1="875.4" x2="1043.2" y2="1010.0" stroke="#2b2b2b" stroke-width="1.3" />
<text x="1012.0" y="835.5" font-size="16.5" text-anchor="middle" >8</text>
<text x="1059.0" y="835.5" font-size="16.5" text-anchor="middle" >9</text>
<text x="1096.0" y="835.5" font-size="16.5" text-anchor="middle" >10</text>
<polyline points="996.3,839.5 1028.5,839.5 1036.2,848.1 1042.4,839.5 1078.4,839.5 1086.0,848.1 1092.3,839.5 1127.2,839.5" fill="none" stroke="#2b2b2b" stroke-width="1.3" />
<line x1="996.3" y1="839.5" x2="958.2" y2="1003.0" stroke="#2b2b2b" stroke-width="1.3" />
<circle cx="958.2" cy="1003.0" r="3.0" fill="#111"/>
<circle cx="1020.8" cy="1170.9" r="3.0" fill="#111"/>
<polyline points="1020.8,1170.9 1072.5,1326.0 1112.0,1326.0" fill="none" stroke="#2b2b2b" stroke-width="1.3" />
<text x="1085.0" y="1322.0" font-size="15.5" text-anchor="middle" letter-spacing="-0.6">12</text>
<circle cx="563.4" cy="1281.4" r="3.0" fill="#111"/>
<polyline points="563.4,1281.4 451.0,1343.0 394.4,1343.0" fill="none" stroke="#2b2b2b" stroke-width="1.3" />
<text x="407.5" y="1338.2" font-size="15.5" text-anchor="middle" letter-spacing="-0.6">13</text>
<circle cx="563.3" cy="1418.0" r="3.0" fill="#111"/>
<polyline points="563.3,1418.0 469.7,1453.6 412.1,1453.6" fill="none" stroke="#2b2b2b" stroke-width="1.3" />
<text x="434.5" y="1446.8" font-size="15.5" text-anchor="middle" letter-spacing="-0.6">14</text>
</svg>
<div class="g" style="left:334.5px;top:1613px">1、设备套管</div>
<div class="g" style="left:334.5px;top:1646px">2、可触摸前接头</div>
<div class="g" style="left:334.5px;top:1679px">3、接线端子</div>
<div class="g" style="left:334.5px;top:1712.5px">4、双头螺栓</div>
<div class="g" style="left:527.5px;top:1613px">5、可触摸后接头</div>
<div class="g" style="left:527.5px;top:1643.5px">6、中问接头</div>
<div class="g" style="left:527.5px;top:1674.5px">7、绝缘塞</div>
<div class="g" style="left:527.5px;top:1705px">8、平垫圈</div>
<div class="g" style="left:737px;top:1613.5px">9、弹簧挚圈</div>
<div class="g" style="left:737px;top:1646px">10、螺母</div>
<div class="g" style="left:737px;top:1679px">11、防护帽</div>
<div class="g" style="left:737px;top:1712px">12、测试帽</div>
<div class="g" style="left:906px;top:1613px">13、应力锥</div>
<div class="g" style="left:906px;top:1646px">14、电缆(分支 )</div>
</body>
</html>
